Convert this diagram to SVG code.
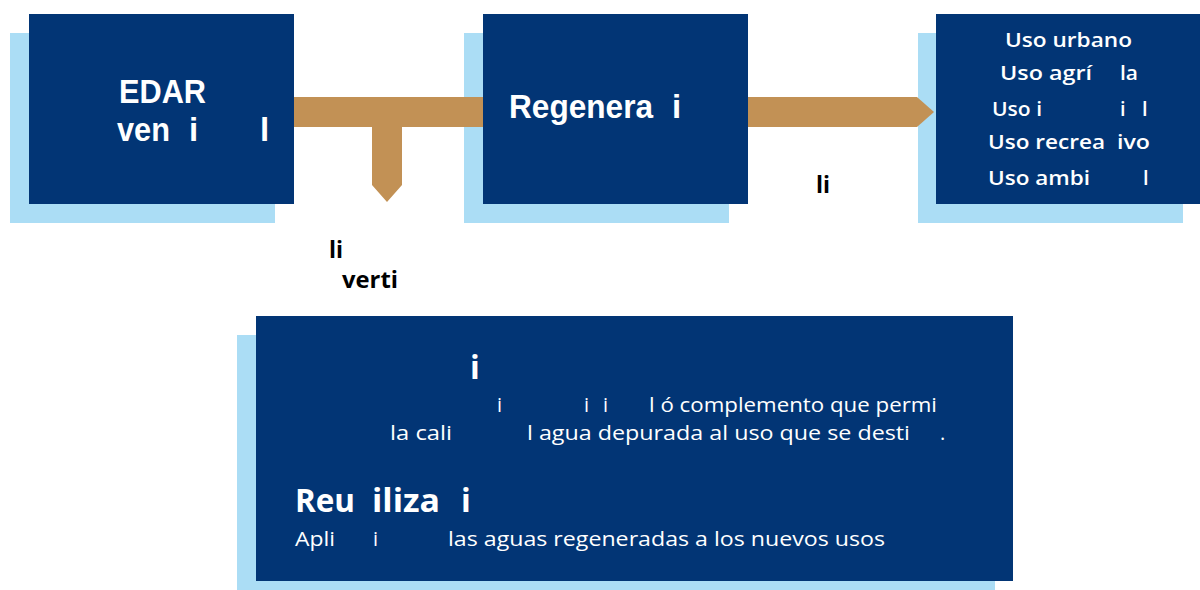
<svg xmlns="http://www.w3.org/2000/svg" width="1200" height="590" viewBox="0 0 1200 590">
<style>
.sh{fill:#ABDDF5}
.bx{fill:#023575}
.t{fill:#FFFFFF;font-family:"Open Sans","Liberation Sans",sans-serif}
.h{font-family:"Liberation Sans","Open Sans",sans-serif;font-size:33px;font-weight:700}
.u{font-size:20px;font-weight:600}
.b{font-size:20px;font-weight:400}
.hb{font-size:32px;font-weight:700}
.lb{fill:#000000;font-family:"Open Sans","Liberation Sans",sans-serif;font-size:23px;font-weight:700}
.c{fill:#C29155}
</style>
<rect width="1200" height="590" fill="#FFFFFF"/>
<g id="node-edar">
<rect class="sh" x="10" y="33" width="265" height="190"/>
<rect class="bx" x="29" y="14" width="265" height="190"/>
<text class="t h" x="119" y="103" textLength="87" lengthAdjust="spacingAndGlyphs">EDAR</text>
<text class="t h" y="141"><tspan x="117" textLength="53" lengthAdjust="spacingAndGlyphs">ven</tspan><tspan x="189">i</tspan><tspan x="260">l</tspan></text>
</g>
<g id="node-regeneracion">
<rect class="sh" x="464" y="33" width="265" height="190"/>
<rect class="bx" x="483" y="14" width="265" height="190"/>
<text class="t h" y="118"><tspan x="509" textLength="144" lengthAdjust="spacingAndGlyphs">Regenera</tspan><tspan x="672">i</tspan></text>
</g>
<g id="node-usos">
<rect class="sh" x="918" y="33" width="265" height="190"/>
<rect class="bx" x="936" y="14" width="264" height="190"/>
<text class="t u" x="1005" y="47" textLength="127" lengthAdjust="spacingAndGlyphs">Uso urbano</text>
<text class="t u" y="80"><tspan x="1000" textLength="92" lengthAdjust="spacingAndGlyphs">Uso agrí</tspan><tspan x="1120" textLength="18" lengthAdjust="spacingAndGlyphs">la</tspan></text>
<text class="t u" y="116"><tspan x="992" textLength="50" lengthAdjust="spacingAndGlyphs">Uso i</tspan><tspan x="1120">i</tspan><tspan x="1142">l</tspan></text>
<text class="t u" y="149"><tspan x="988" textLength="117" lengthAdjust="spacingAndGlyphs">Uso recrea</tspan><tspan x="1117" textLength="33" lengthAdjust="spacingAndGlyphs">ivo</tspan></text>
<text class="t u" y="185"><tspan x="988" textLength="102" lengthAdjust="spacingAndGlyphs">Uso ambi</tspan><tspan x="1143">l</tspan></text>
</g>
<g id="node-definiciones">
<rect class="sh" x="237" y="335" width="758" height="255"/>
<rect class="bx" x="256" y="316" width="757" height="265"/>
<text class="t hb" x="470" y="379">i</text>
<text class="t b" y="412"><tspan x="497">i</tspan><tspan x="584">i</tspan><tspan x="603">i</tspan><tspan x="649" textLength="288" lengthAdjust="spacingAndGlyphs">l ó complemento que permi</tspan></text>
<text class="t b" y="440"><tspan x="390" textLength="62" lengthAdjust="spacingAndGlyphs">la cali</tspan><tspan x="527" textLength="383" lengthAdjust="spacingAndGlyphs">l agua depurada al uso que se desti</tspan><tspan x="940">.</tspan></text>
<text class="t hb" y="512"><tspan x="295" textLength="60" lengthAdjust="spacingAndGlyphs">Reu</tspan><tspan x="372" textLength="68" lengthAdjust="spacingAndGlyphs">iliza</tspan><tspan x="461">i</tspan></text>
<text class="t b" y="546"><tspan x="295" textLength="40" lengthAdjust="spacingAndGlyphs">Apli</tspan><tspan x="373">i</tspan><tspan x="448" textLength="437" lengthAdjust="spacingAndGlyphs">las aguas regeneradas a los nuevos usos</tspan></text>
</g>
<g id="connectors">
<path class="c" d="M294,97 H483 V127 H402 V185 L387,202 L372,185 V127 H294 Z"/>
<path class="c" d="M748,97 H917 L934,112 L917,127 H748 Z"/>
<text class="lb" x="329" y="258">li</text>
<text class="lb" x="342" y="288" textLength="56" lengthAdjust="spacingAndGlyphs">verti</text>
<text class="lb" x="816" y="193">li</text>
</g>
</svg>
